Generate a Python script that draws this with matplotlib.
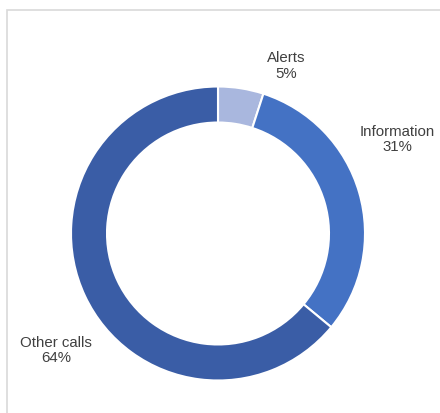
import matplotlib
matplotlib.use("Agg")
import matplotlib.pyplot as plt
from matplotlib.patches import Rectangle

categories = ["Alerts", "Information", "Other calls"]
values = [5, 31, 64]
colors = ["#A9B7DE", "#4472C4", "#3A5DA6"]

plt.rcParams['font.family'] = ['Liberation Sans', 'DejaVu Sans']

W, H = 440, 414
fig = plt.figure(figsize=(W / 100, H / 100), dpi=100)
ax = fig.add_axes([0, 0, 1, 1])
ax.set_xlim(0, W)
ax.set_ylim(0, H)
ax.set_aspect('equal')
ax.axis('off')

# frame
ax.add_patch(Rectangle((7, -10), 450, H - 11 + 10, fill=False,
                       edgecolor="#D9D9D9", linewidth=1.2))

cx, cy, r = 218, H - 234.5, 147
wedges, _ = ax.pie(values, colors=colors, startangle=90, counterclock=False,
                   center=(cx, cy), radius=r, frame=True,
                   wedgeprops=dict(width=r * 0.245, edgecolor="white", linewidth=1.5))
ax.set_xlim(0, W)
ax.set_ylim(0, H)
ax.axis('off')

label_pos = [(286, H - 66), (397, H - 139.5), (56, H - 350.5)]
for cat, v, (x, y) in zip(categories, values, label_pos):
    ax.text(x, y, f"{cat}\n{v}%", ha="center", va="center", fontsize=10.8,
            color="#404040", linespacing=1.15)

fig.savefig("out.png", dpi=100)
